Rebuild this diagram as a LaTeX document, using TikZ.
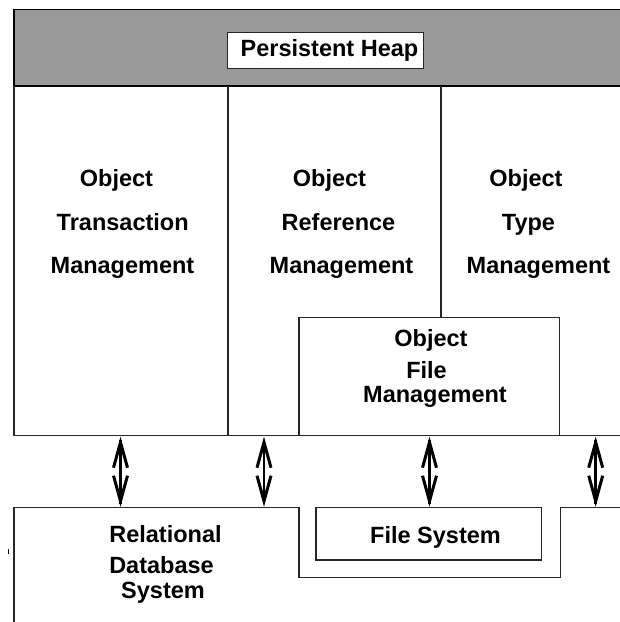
\documentclass[tikz,border=0pt]{standalone}
\usepackage{fontspec}
\setmainfont{Liberation Sans}
\usetikzlibrary{calc}
\definecolor{bandgray}{HTML}{999999}
\tikzset{
  lbl/.style={inner sep=0pt, anchor=base, font=\fontsize{23.5}{28}\selectfont\bfseries},
  edge/.style={line width=1.2pt, draw=black!85},
  shaft/.style={line width=2.6pt},
  barb/.style={line width=3pt, line join=miter, miter limit=20}
}
\newcommand{\dblarr}[2]{%
  \draw[shaft] ($(#1)+(0,4)$) -- ($(#2)+(0,-4)$);
  \draw[barb] ($(#1)+(-7,32)$) -- ($(#1)+(0,6.6)$) -- ($(#1)+(7,32)$);
  \draw[barb] ($(#2)+(-7,-32)$) -- ($(#2)+(0,-6.6)$) -- ($(#2)+(7,-32)$);
}
\begin{document}
\begin{tikzpicture}[x=1pt,y=-1pt]
\useasboundingbox (0,0) rectangle (620,622);
% top band
\fill[bandgray] (14,9.3) rectangle (625,86);
\draw[line width=1.4pt] (625,9.3) -- (14,9.3) -- (14,86) -- (625,86);
\draw[edge,fill=white] (227.7,32.7) rectangle (423.3,68.3);
\node[lbl] (ph) at (329.5,56.7) {Persistent Heap};
% columns
\draw[edge] (14,86) -- (14,435.7) -- (625,435.7);
\draw[edge] (228,86) -- (228,435.7);
\draw[edge] (441,86) -- (441,317.7);
\draw[edge] (299,435.7) -- (299,317.7) -- (559.5,317.7) -- (559.5,435.7);
% column texts
\node[lbl] (o1) at (116.5,186) {Object};
\node[lbl] (t1) at (122.7,230) {Transaction};
\node[lbl] (m1) at (122.5,273) {Management};
\node[lbl] (o2) at (329.5,186) {Object};
\node[lbl] (r2) at (338.5,230) {Reference};
\node[lbl] (m2) at (341.5,273) {Management};
\node[lbl] (o3) at (526,186) {Object};
\node[lbl] (t3) at (528.5,230) {Type};
\node[lbl] (m3) at (538.5,273) {Management};
\node[lbl] (o4) at (431,346.7) {Object};
\node[lbl] (f4) at (426.5,378.3) {File};
\node[lbl] (m4) at (435,402.3) {Management};
% bottom shapes
\draw[edge] (14,625) -- (14,507.7) -- (299,507.7) -- (299,577.7) -- (560.7,577.7) -- (560.7,507.7) -- (625,507.7);
\draw[edge] (316,507.7) rectangle (541.7,560);
\node[lbl] (fs) at (435.5,543.3) {File System};
\node[lbl] (rd1) at (165.5,542.7) {Relational};
\node[lbl] (rd2) at (161.5,573.3) {Database};
\node[lbl] (rd3) at (163,598.3) {System};
\draw[line width=0.8pt] (8.3,549) -- (8.3,554);
% arrows
\coordinate (a1t) at (120.5,435.7); \coordinate (a1b) at (120.5,507.7);
\coordinate (a2t) at (264,435.7);   \coordinate (a2b) at (264,507.7);
\coordinate (a3t) at (429.5,435.7); \coordinate (a3b) at (429.5,507.7);
\coordinate (a4t) at (595.7,435.7); \coordinate (a4b) at (595.7,507.7);
\dblarr{a1t}{a1b}
\dblarr{a2t}{a2b}
\dblarr{a3t}{a3b}
\dblarr{a4t}{a4b}
\end{tikzpicture}
\end{document}
